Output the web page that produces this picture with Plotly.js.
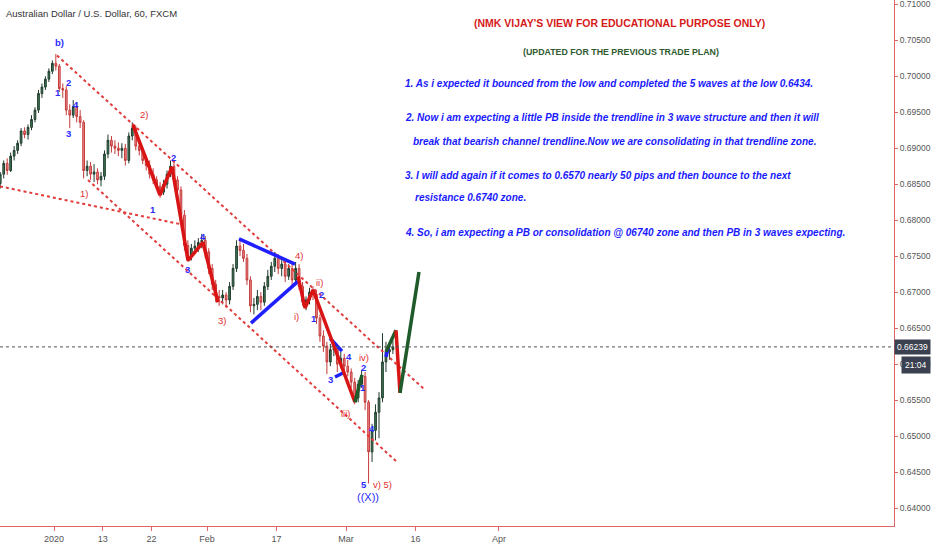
<!DOCTYPE html>
<html><head><meta charset="utf-8">
<script src="https://cdn.plot.ly/plotly-3.0.1.min.js"></script>
<style>html,body{margin:0;padding:0;background:#fff;}#chart{width:932px;height:550px;}</style>
</head><body><div id="chart"></div>
<script>
// ---- data (AUD/USD, 12h bars) ----
const tradingDays = ['2019-12-23','2019-12-24','2019-12-25','2019-12-26','2019-12-27','2019-12-30','2019-12-31',
 '2020-01-01','2020-01-02','2020-01-03','2020-01-06','2020-01-07','2020-01-08','2020-01-09','2020-01-10',
 '2020-01-13','2020-01-14','2020-01-15','2020-01-16','2020-01-17','2020-01-20','2020-01-21','2020-01-22',
 '2020-01-23','2020-01-24','2020-01-27','2020-01-28','2020-01-29','2020-01-30','2020-01-31',
 '2020-02-03','2020-02-04','2020-02-05','2020-02-06','2020-02-07','2020-02-10','2020-02-11','2020-02-12',
 '2020-02-13','2020-02-14','2020-02-17','2020-02-18','2020-02-19','2020-02-20','2020-02-21','2020-02-24',
 '2020-02-25','2020-02-26','2020-02-27','2020-02-28','2020-03-02','2020-03-03','2020-03-04','2020-03-05',
 '2020-03-06','2020-03-09','2020-03-10'];
const barHours = ['06:00','18:00'];
const openP = [.6851,.6864,.6879,.6869,.6889,.6897,.6907,.6924,.6919,.6929,.6940,.6953,.6976,.6985,
 .6996,.7007,.7018,.7014,.6983,.6981,.6953,.6946,.6958,.6944,.6936,.6869,.6875,.6864,.6867,.6856,
 .6861,.6892,.6911,.6903,.6900,.6897,.6900,.6883,.6917,.6928,.6903,.6897,.6883,.6876,.6864,.6856,
 .6847,.6839,.6850,.6864,.6875,.6856,.6842,.6807,.6765,.6750,.6761,.6764,.6769,.6772,
 .6756,.6733,.6711,.6694,.6692,.6696,.6689,.6708,.6733,.6764,.6758,.6747,.6717,.6681,.6683,.6694,
 .6686,.6708,.6722,.6736,.6747,.6733,.6739,.6722,.6733,.6717,.6733,.6708,.6686,.6689,.6700,.6697,
 .6664,.6639,.6625,.6603,.6620,.6622,.6600,.6608,.6597,.6589,.6575,.6553,.6572,.6583,.6547,.6478,
 .6508,.6533,.6553,.6603,.6617,.6620];
const highP = [.6867,.6883,.6886,.6894,.6903,.6911,.6928,.6929,.6933,.6946,.6957,.6981,.6990,.7000,
 .7011,.7022,.7031,.7017,.6990,.6986,.6961,.6967,.6964,.6953,.6939,.6883,.6881,.6878,.6872,.6867,
 .6897,.6919,.6917,.6911,.6908,.6907,.6906,.6922,.6936,.6932,.6911,.6901,.6890,.6883,.6872,.6861,
 .6853,.6856,.6869,.6883,.6881,.6861,.6847,.6814,.6772,.6767,.6772,.6775,.6781,.6778,
 .6761,.6739,.6717,.6703,.6703,.6700,.6714,.6739,.6772,.6775,.6767,.6753,.6722,.6692,.6703,.6700,
 .6714,.6731,.6742,.6756,.6753,.6747,.6744,.6739,.6742,.6742,.6739,.6714,.6694,.6706,.6708,.6703,
 .6669,.6647,.6631,.6628,.6631,.6625,.6617,.6614,.6606,.6594,.6581,.6578,.6592,.6589,.6550,.6517,
 .6544,.6561,.6643,.6631,.6628,.6633];
const lowP = [.6844,.6858,.6863,.6867,.6883,.6892,.6903,.6914,.6912,.6925,.6936,.6949,.6970,.6981,
 .6992,.7003,.7008,.6978,.6970,.6946,.6928,.6942,.6936,.6928,.6858,.6861,.6856,.6853,.6850,.6847,
 .6856,.6886,.6894,.6892,.6889,.6886,.6876,.6879,.6911,.6897,.6890,.6878,.6869,.6858,.6850,.6842,
 .6831,.6835,.6844,.6860,.6850,.6835,.6800,.6758,.6742,.6744,.6753,.6756,.6761,.6747,
 .6725,.6703,.6686,.6681,.6683,.6678,.6683,.6703,.6728,.6750,.6742,.6710,.6672,.6669,.6675,.6675,
 .6681,.6703,.6717,.6728,.6725,.6722,.6714,.6717,.6708,.6711,.6703,.6681,.6675,.6683,.6689,.6656,
 .6631,.6617,.6586,.6597,.6611,.6589,.6594,.6589,.6583,.6567,.6544,.6547,.6567,.6536,.6434,.6464,
 .6494,.6497,.6547,.6589,.6606,.6614];
const closeP = [.6864,.6879,.6869,.6889,.6897,.6907,.6924,.6919,.6929,.6940,.6953,.6976,.6985,.6996,
 .7007,.7018,.7014,.6983,.6981,.6953,.6946,.6958,.6944,.6936,.6869,.6875,.6864,.6867,.6856,.6861,
 .6892,.6911,.6903,.6900,.6897,.6900,.6883,.6917,.6928,.6903,.6897,.6883,.6876,.6864,.6856,.6847,
 .6839,.6850,.6864,.6875,.6856,.6842,.6807,.6765,.6750,.6761,.6764,.6769,.6772,.6756,
 .6733,.6711,.6694,.6692,.6696,.6689,.6708,.6733,.6764,.6758,.6747,.6717,.6681,.6683,.6694,.6686,
 .6708,.6722,.6736,.6747,.6733,.6739,.6722,.6733,.6717,.6733,.6708,.6686,.6689,.6700,.6697,.6664,
 .6639,.6625,.6603,.6620,.6622,.6600,.6608,.6597,.6589,.6575,.6553,.6572,.6583,.6547,.6478,.6508,
 .6533,.6553,.6603,.6617,.6620,.66239];
const lastPrice = 0.66239;
const tickDates = ['2020-01-02','2020-01-13','2020-01-22','2020-02-03','2020-02-17','2020-03-02','2020-03-16','2020-04-01'];
const tickLabels = ['2020','13','22','Feb','17','Mar','16','Apr'];
const priceTicks = [0.640,0.645,0.650,0.655,0.660,0.665,0.670,0.675,0.680,0.685,0.690,0.695,0.700,0.705,0.710];

// ---- drawings (Elliott-wave markup) ----
const trendUpperX = ['2020-01-02 10:00','2020-03-17 09:00'], trendUpperY = [0.7029,0.6564];
const trendLowerX = ['2020-01-08 21:00','2020-03-11 08:00'], trendLowerY = [0.6856,0.6464];
const trendFlatX = ['2019-12-23 05:10','2020-01-28 09:40'], trendFlatY = [0.6847,0.6794];
const redWave1X = ['2020-01-17 08:30','2020-01-23 05:40','2020-01-24 23:00','2020-01-29 06:20','2020-01-31 10:10','2020-02-04 14:00'];
const redWave1Y = [0.6932,0.6835,0.6874,0.6744,0.6769,0.6686];
const redWave2X = ['2020-02-20 02:15','2020-02-21 02:25','2020-02-24 06:00','2020-03-03 07:00'];
const redWave2Y = [0.6722,0.6678,0.6703,0.6547];
const greenWave2X = ['2020-03-03 07:00','2020-03-04 07:15'], greenWave2Y = [0.6547,0.6585];
const projGreen1X = ['2020-03-09 18:00','2020-03-11 04:40'], projGreen1Y = [0.6617,0.6647];
const projRedX = ['2020-03-11 04:40','2020-03-11 18:30'], projRedY = [0.6647,0.6560];
const projGreen2X = ['2020-03-11 18:30','2020-03-16 12:00'], projGreen2Y = [0.6560,0.6728];
const blueLines = [
  {x:['2020-02-07 14:30','2020-02-19 16:00'], y:[0.6774,0.6739]},
  {x:['2020-02-11 08:00','2020-02-20 02:15'], y:[0.6657,0.6715]},
  {x:['2020-02-26 16:45','2020-02-28 10:10'], y:[0.6636,0.6618]},
  {x:['2020-02-27 10:00','2020-02-28 20:30'], y:[0.6582,0.6589]},
  {x:['2020-03-09 18:00','2020-03-10 01:00'], y:[0.6610,0.6622]}
];
const blueLabels = [
  ['b)','2020-01-02 20:20',0.7047],['1','2020-01-02 13:30',0.6978],['2','2020-01-06 00:00',0.6992],
  ['3','2020-01-06 00:00',0.6920],['4','2020-01-07 03:40',0.6961],['1','2020-01-22 05:30',0.6815],
  ['2','2020-01-27 02:35',0.6887],['3','2020-01-29 03:00',0.6732],['4','2020-01-31 10:10',0.6778],
  ['1','2020-02-24 09:30',0.6663],['2','2020-02-25 09:40',0.6697],['3','2020-02-26 16:45',0.6579],
  ['4','2020-03-02 10:20',0.6610],['2','2020-03-04 14:00',0.6595],['1','2020-03-04 10:40',0.6567],
  ['4','2020-03-05 17:50',0.6511],['5','2020-03-04 14:00',0.6432]
];
const redLabels = [
  ['2)','2020-01-20 22:20',0.6947],['1)','2020-01-08 07:15',0.6837],['3)','2020-02-05 03:50',0.6660],
  ['4)','2020-02-20 05:40',0.6751],['i)','2020-02-19 19:20',0.6666],['ii)','2020-02-25 02:45',0.6713],
  ['iii)','2020-03-02 00:00',0.6531],['iv)','2020-03-04 14:00',0.6609],['v) 5)','2020-03-09 04:20',0.6432]
];
const noteLines = [
  '1. As i expected it bounced from the low and completed the 5 waves at the low 0.6434.',
  '2. Now i am expecting a little PB inside the trendline in 3 wave structure and then it will',
  '   break that bearish channel trendline.Now we are consolidating in that trendline zone.',
  '3. I will add again if it comes to 0.6570 nearly 50 pips and then bounce to the next',
  '   resistance 0.6740 zone.',
  '4. So, i am expecting a PB or consolidation @ 06740 zone and then PB in 3 waves expecting.'
];

// ---- build ----
const barTimes = [];
tradingDays.forEach(d => barHours.forEach(h => barTimes.push(d + ' ' + h)));

const SANS = 'Liberation Sans, Arial, sans-serif';
const traces = [];
traces.push({
  type:'candlestick', x:barTimes, open:openP, high:highP, low:lowP, close:closeP,
  increasing:{line:{color:'#1f3a2b',width:1}, fillcolor:'#3f7d59'},
  decreasing:{line:{color:'#c43a3a',width:1}, fillcolor:'#ee8c8c'},
  hoverinfo:'skip', showlegend:false
});
function line(x,y,color,width,dash){
  traces.push({type:'scatter',mode:'lines',x:x,y:y,line:{color:color,width:width,dash:dash||'solid'},hoverinfo:'skip',showlegend:false});
}
const DOT = '#e23b3b';
line(trendUpperX,trendUpperY,DOT,2,'dot');
line(trendLowerX,trendLowerY,DOT,2,'dot');
line(trendFlatX,trendFlatY,DOT,2,'dot');
blueLines.forEach(b => line(b.x,b.y,'#1f1fff',3.5));
line(redWave1X,redWave1Y,'#d81414',3.5);
line(redWave2X,redWave2Y,'#d81414',3.5);
line(greenWave2X,greenWave2Y,'#1f5a2a',3.5);
line(projGreen1X,projGreen1Y,'#1f5a2a',3.5);
line(projRedX,projRedY,'#d81414',3.5);
line(projGreen2X,projGreen2Y,'#1f5a2a',3.5);

const annotations = [];
blueLabels.forEach(l => annotations.push({x:l[1],y:l[2],text:'<b>'+l[0]+'</b>',showarrow:false,
  font:{family:SANS,size:9.5,color:'#2b2bff'}}));
redLabels.forEach(l => annotations.push({x:l[1],y:l[2],text:l[0],showarrow:false,
  font:{family:SANS,size:9.5,color:'#e03030'}}));
annotations.push({x:'2020-03-05 04:00',y:0.6416,text:'((X))',showarrow:false,
  font:{family:SANS,size:11,color:'#2b2bff'}});
annotations.push({xref:'paper',yref:'paper',x:0.005,y:0.975,xanchor:'left',yanchor:'middle',showarrow:false,
  text:'Australian Dollar / U.S. Dollar, 60, FXCM',font:{family:SANS,size:9.5,color:'#333'}});
annotations.push({xref:'paper',yref:'paper',x:0.6924,y:0.9563,xanchor:'center',yanchor:'middle',showarrow:false,
  text:'<b>(NMK VIJAY\'S VIEW FOR EDUCATIONAL PURPOSE ONLY)</b>',font:{family:SANS,size:10.5,color:'#d61a1a'}});
annotations.push({xref:'paper',yref:'paper',x:0.6946,y:0.9011,xanchor:'center',yanchor:'middle',showarrow:false,
  text:'<b>(UPDATED FOR THE PREVIOUS TRADE PLAN)</b>',font:{family:SANS,size:8.8,color:'#2e5a2e'}});
const noteY = [0.8422,0.7757,0.7319,0.6673,0.6236,0.5589];
const noteX = [0.4508,0.4508,0.4597,0.4508,0.4620,0.4508];
noteLines.forEach((t,i) => annotations.push({xref:'paper',yref:'paper',x:noteX[i],y:noteY[i],xanchor:'left',yanchor:'middle',
  showarrow:false,text:'<b><i>'+t.trim()+'</i></b>',font:{family:SANS,size:10,color:'#1a1aff'}}));
annotations.push({xref:'paper',x:1,xanchor:'left',y:lastPrice,yanchor:'middle',showarrow:false,
  text:lastPrice.toFixed(5),bgcolor:'#3b4150',borderpad:2,font:{family:SANS,size:8.5,color:'#ffffff'}});
annotations.push({xref:'paper',x:1,xanchor:'left',xshift:7,y:lastPrice,yanchor:'middle',yshift:-18,showarrow:false,
  text:'21:04',bgcolor:'#3b4150',borderpad:3,font:{family:SANS,size:8.5,color:'#ffffff'}});

const layout = {
  width:932, height:550, margin:{l:0,r:38,t:0,b:24},
  paper_bgcolor:'#ffffff', plot_bgcolor:'#ffffff', showlegend:false, hovermode:false,
  xaxis:{type:'date', range:['2019-12-23 05:10','2020-06-18 20:24'],
    rangebreaks:[{bounds:['sat','mon']}], rangeslider:{visible:false},
    tickvals:tickDates, ticktext:tickLabels, ticks:'outside', ticklen:4, tickcolor:'#e06666',
    showline:true, linecolor:'#e06666', linewidth:1, showgrid:false, zeroline:false,
    tickfont:{family:SANS,size:9,color:'#555'}, fixedrange:true},
  yaxis:{side:'right', range:[0.63750,0.71060], tickvals:priceTicks, tickformat:'.5f',
    ticklabeloverflow:'allow',
    ticks:'outside', ticklen:3, tickcolor:'#e06666', showline:true, linecolor:'#e06666', linewidth:1,
    showgrid:false, zeroline:false, tickfont:{family:SANS,size:8.5,color:'#555'}, fixedrange:true},
  shapes:[{type:'line',xref:'paper',x0:0,x1:1,yref:'y',y0:lastPrice,y1:lastPrice,
    line:{color:'#555',width:1,dash:'dot'}}],
  annotations:annotations
};
Plotly.newPlot('chart',traces,layout,{staticPlot:true,displayModeBar:false});
</script>
</body></html>
